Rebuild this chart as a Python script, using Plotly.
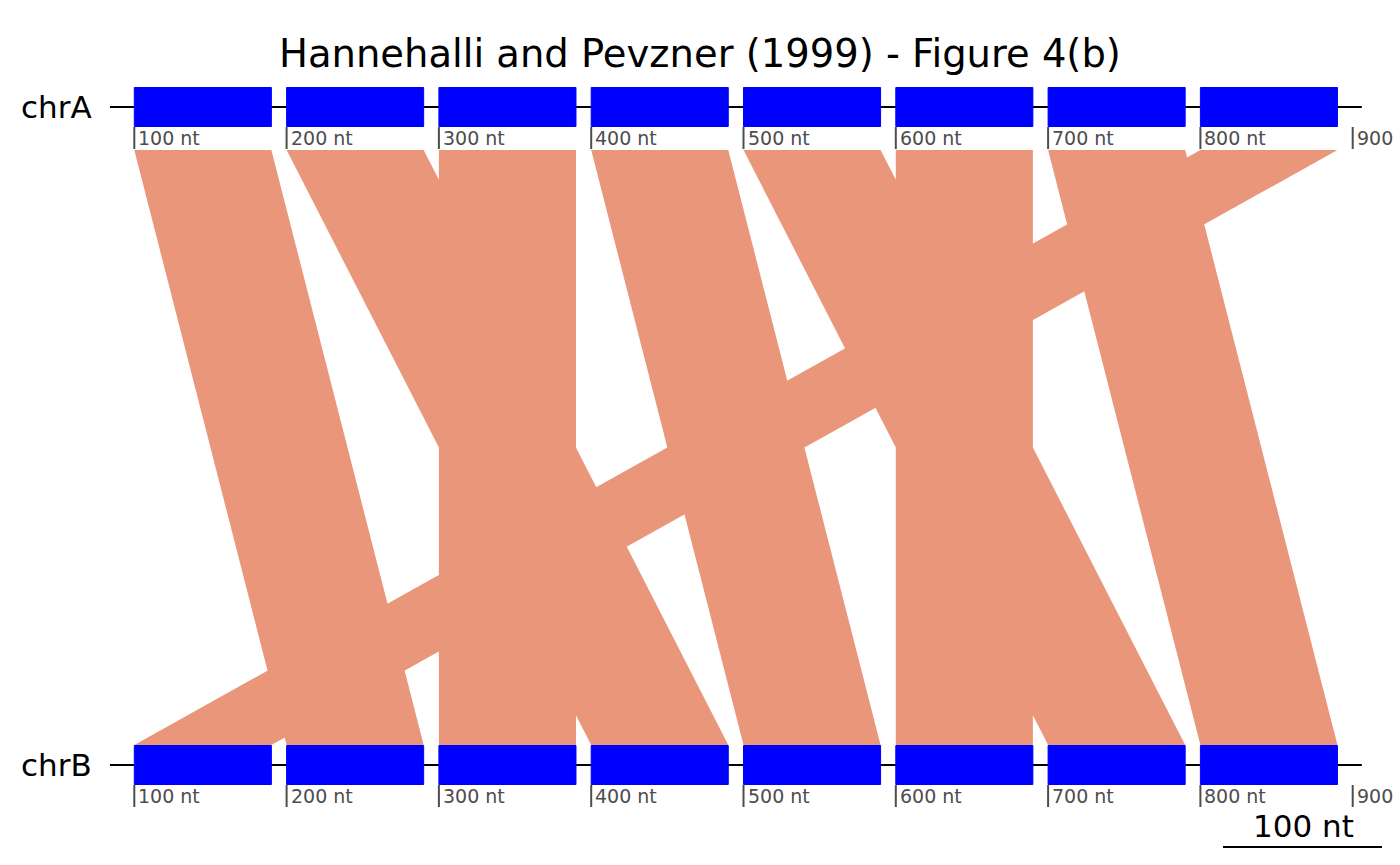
import plotly.graph_objects as go

# ---------------- data ----------------
seq_names = ["chrA", "chrB"]
seq_rows = [2, 1]                 # row value for each sequence
seq_start = 84                    # sequence line extent (nt)
seq_end = 906

gene_starts = [100, 200, 300, 400, 500, 600, 700, 800]
gene_ends = [190, 290, 390, 490, 590, 690, 790, 890]

link_a_start = [100, 200, 300, 400, 500, 600, 700, 800]
link_a_end = [190, 290, 390, 490, 590, 690, 790, 890]
link_b_start = [200, 400, 300, 500, 700, 600, 800, 100]
link_b_end = [290, 490, 390, 590, 790, 690, 890, 190]

tick_vals = [100, 200, 300, 400, 500, 600, 700, 800, 900]
tick_text = ["100 nt", "200 nt", "300 nt", "400 nt", "500 nt",
             "600 nt", "700 nt", "800 nt", "900 nt"]

title = "Hannehalli and Pevzner (1999) - Figure 4(b)"
scale_label = "100 nt"

# ---------------- layout constants ----------------
W, H = 1400, 865
PX_PER_NT = 1.523
X0_PX = 134.3          # pixel of 100 nt
ROW_PX = {2: 107, 1: 765}
PX_PER_ROW = ROW_PX[1] - ROW_PX[2]

x_range = [100 - X0_PX / PX_PER_NT, 100 + (W - X0_PX) / PX_PER_NT]
y_range = [1 - (H - ROW_PX[1]) / PX_PER_ROW, 2 + ROW_PX[2] / PX_PER_ROW]

def dy(px):
    return px / PX_PER_ROW

FONT = "DejaVu Sans"
GENE_COL = "#0000FF"
LINK_COL = "#E9967A"
GENE_HALF = dy(19.5)
LINK_TOP = 2 - dy(43)      # below chrA labels
LINK_BOT = 1 + dy(20)      # top of chrB genes

fig = go.Figure()

# links
lx, ly = [], []
for a0, a1, b0, b1 in zip(link_a_start, link_a_end, link_b_start, link_b_end):
    lx += [a0, a1, b1, b0, a0, None]
    ly += [LINK_TOP, LINK_TOP, LINK_BOT, LINK_BOT, LINK_TOP, None]
fig.add_trace(go.Scatter(x=lx, y=ly, mode="lines", fill="toself",
                         fillcolor=LINK_COL, line=dict(width=0, color=LINK_COL),
                         hoverinfo="skip", showlegend=False))

# sequence lines
for r in seq_rows:
    fig.add_trace(go.Scatter(x=[seq_start, seq_end], y=[r, r], mode="lines",
                             line=dict(color="black", width=2),
                             hoverinfo="skip", showlegend=False))

# genes
for r in seq_rows:
    gx, gy = [], []
    for s, e in zip(gene_starts, gene_ends):
        gx += [s, e, e, s, s, None]
        gy += [r - GENE_HALF, r - GENE_HALF, r + GENE_HALF, r + GENE_HALF, r - GENE_HALF, None]
    fig.add_trace(go.Scatter(x=gx, y=gy, mode="lines", fill="toself",
                             fillcolor=GENE_COL, line=dict(width=1, color=GENE_COL),
                             hoverinfo="skip", showlegend=False))

# tick marks + labels
annotations = []
for r in seq_rows:
    tx, ty = [], []
    for v, t in zip(tick_vals, tick_text):
        tx += [v, v, None]
        ty += [r - dy(20), r - dy(42), None]
        annotations.append(dict(x=v, y=r - dy(31), xref="x", yref="y", text=t,
                                showarrow=False, xanchor="left", yanchor="middle",
                                xshift=2, font=dict(family=FONT, size=19, color="#4D4D4D")))
    fig.add_trace(go.Scatter(x=tx, y=ty, mode="lines",
                             line=dict(color="#4D4D4D", width=2),
                             hoverinfo="skip", showlegend=False))

# sequence labels
for name, r in zip(seq_names, seq_rows):
    annotations.append(dict(x=94 / W, y=r, xref="paper", yref="y", text=name,
                            showarrow=False, xanchor="right", yanchor="middle",
                            font=dict(family=FONT, size=31, color="black")))

# title
annotations.append(dict(x=0.5, y=1 - 54 / H, xref="paper", yref="paper", text=title,
                        showarrow=False, xanchor="center", yanchor="middle",
                        font=dict(family=FONT, size=38.5, color="black")))

# scale bar
annotations.append(dict(x=1303 / W, y=1 - 826 / H, xref="paper", yref="paper",
                        text=scale_label, showarrow=False, xanchor="center",
                        yanchor="middle", font=dict(family=FONT, size=31, color="black")))
shapes = [dict(type="line", xref="paper", yref="paper",
               x0=1223 / W, x1=1382 / W, y0=1 - 847 / H, y1=1 - 847 / H,
               line=dict(color="black", width=2))]

fig.update_layout(
    width=W, height=H,
    margin=dict(l=0, r=0, t=0, b=0),
    paper_bgcolor="white", plot_bgcolor="white",
    xaxis=dict(range=x_range, visible=False, fixedrange=True),
    yaxis=dict(range=y_range, visible=False, fixedrange=True),
    annotations=annotations, shapes=shapes,
    showlegend=False,
)

fig.write_html("out.html", config={"displayModeBar": False},
               post_script="document.body.style.margin='0';document.body.style.overflow='hidden';")
